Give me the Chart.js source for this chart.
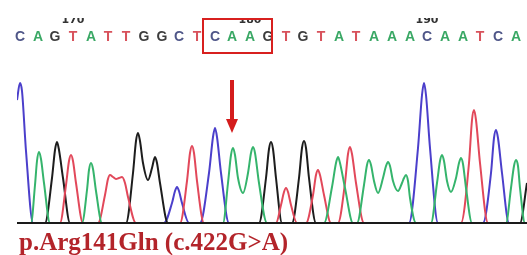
<!DOCTYPE html>
<html>
<head>
<meta charset="utf-8">
<script src="https://cdn.jsdelivr.net/npm/chart.js@4"></script>
<style>
  html, body { margin: 0; padding: 0; background: #fff; }
  #wrap { width: 527px; height: 255px; }
</style>
</head>
<body>
<div id="wrap"><canvas id="canvas" width="527" height="255"></canvas></div>
<script>
// base calls and where they sit (scan numbers)
const bases = ['C','A','G','T','A','T','T','G','G','C','T','C','A','A','G','T','G','T','A','T','A','A','A','C','A','A','T','C','A'];
const baseScans = [3,21,38,56,74,91,109,127,145,162,180,198,215,233,251,269,286,304,322,339,357,375,393,410,428,446,463,481,499];
const tickLabels = ['170','180','190'];
const tickBases = [3,13,23];
const mutationBase = 12;
const boxScans = [186, 255];
const caption = 'p.Arg141Gln (c.422G>A)';

// trace points per channel: [scan, signal]
const traceA = [[0,0],[14,0],[18,38],[20,62],[22,71],[24,64],[27,40],[33,0],
  [65,0],[70,33],[72,53],[74,60],[76,54],[79,32],[85,0],
  [206,0],[211,40],[214,68],[216,75],[218,68],[221,45],[226,30],[231,50],[234,70],[236,76],[238,70],[242,40],[250,0],
  [307,0],[315,36],[319,60],[321,66],[323,60],[328,35],[336,0],
  [340,0],[347,38],[350,58],[352,63],[354,58],[357,42],[361,30],[366,45],[369,57],[371,61],[373,57],[376,42],[381,32],[385,40],[387,45],[389,48],[391,42],[393,25],[399,0],
  [414,0],[420,40],[423,62],[425,68],[427,62],[430,42],[434,31],[439,45],[442,60],[444,65],[446,59],[449,35],[455,0],
  [489,0],[494,35],[497,57],[499,63],[501,57],[503,35],[508,0],[510,0]];
const traceC = [[0,123],[3,140],[5,132],[9,72],[16,0],
  [147,0],[155,20],[158,32],[160,36],[162,32],[165,20],[172,0],
  [183,0],[192,50],[196,86],[198,95],[200,86],[204,50],[212,0],
  [392,0],[401,75],[405,128],[407,140],[409,128],[413,75],[421,0],
  [466,0],[474,50],[477,85],[479,93],[481,85],[485,50],[492,0],[510,0]];
const traceG = [[0,0],[28,0],[35,45],[38,73],[40,81],[42,73],[46,45],[53,0],
  [109,0],[116,50],[119,82],[121,90],[123,82],[126,60],[131,43],[135,55],[138,66],[140,60],[143,40],[151,0],
  [242,0],[249,45],[252,74],[254,81],[256,74],[259,45],[265,0],
  [275,0],[282,45],[285,75],[287,82],[289,75],[292,45],[299,0],
  [503,0],[510,40]];
const traceT = [[0,0],[43,0],[49,38],[52,62],[54,68],[56,62],[59,40],[66,0],
  [81,0],[88,28],[91,44],[93,48],[96,46],[99,44],[102,45],[105,46],[108,40],[111,26],[119,0],
  [163,0],[170,42],[173,70],[175,77],[177,70],[180,42],[187,0],
  [259,0],[264,18],[267,31],[269,35],[271,31],[274,18],[280,0],
  [289,0],[296,28],[299,48],[301,53],[303,48],[307,28],[314,0],
  [321,0],[328,40],[331,69],[333,76],[335,69],[339,40],[347,0],
  [444,0],[452,60],[455,103],[457,113],[459,103],[463,60],[471,0],[510,0]];

const traceColors = { A: '#35b46c', C: '#4b3fcb', G: '#1d1d1d', T: '#e2485a' };
const letterColors = { A: '#3aa865', C: '#4f5688', G: '#3c3c3c', T: '#d8525c' };

function toPts(arr){
  return arr.map(p => ({x: p[0], y: p[1]}));
}

const overlay = {
  id: 'overlay',
  afterDraw(chart){
    const ctx = chart.ctx;
    const xs = chart.scales.x, ys = chart.scales.y;
    const area = chart.chartArea;
    ctx.save();

    // baseline
    ctx.strokeStyle = '#1a1a1a';
    ctx.lineWidth = 2;
    ctx.beginPath();
    ctx.moveTo(area.left, ys.getPixelForValue(0));
    ctx.lineTo(area.right, ys.getPixelForValue(0));
    ctx.stroke();

    // base letters
    ctx.font = 'bold 14px "Liberation Sans", Arial, sans-serif';
    ctx.textAlign = 'center';
    ctx.textBaseline = 'middle';
    bases.forEach((b, i) => {
      ctx.fillStyle = letterColors[b];
      ctx.fillText(b, xs.getPixelForValue(baseScans[i]), 37);
    });

    // position numbers, top part cut off like the original
    ctx.save();
    ctx.beginPath();
    ctx.rect(0, 18, chart.width, 12);
    ctx.clip();
    ctx.font = 'bold 11px "DejaVu Sans", sans-serif';
    ctx.fillStyle = '#333';
    ctx.textBaseline = 'bottom';
    tickLabels.forEach((t, i) => {
      ctx.fillText(t, xs.getPixelForValue(baseScans[tickBases[i]]), 26);
    });
    ctx.restore();

    // box around the codon
    ctx.strokeStyle = '#d8201f';
    ctx.lineWidth = 2;
    const bx0 = xs.getPixelForValue(boxScans[0]), bx1 = xs.getPixelForValue(boxScans[1]);
    ctx.strokeRect(bx0, 19, bx1 - bx0, 34);

    // arrow on the mutated base
    const ax = xs.getPixelForValue(baseScans[mutationBase]);
    const ay0 = ys.getPixelForValue(143), ay1 = ys.getPixelForValue(90);
    ctx.fillStyle = '#d41c1c';
    ctx.fillRect(ax - 2, ay0, 4, (ay1 - ay0) - 12);
    ctx.beginPath();
    ctx.moveTo(ax - 6, ay1 - 14);
    ctx.lineTo(ax + 6, ay1 - 14);
    ctx.lineTo(ax, ay1);
    ctx.closePath();
    ctx.fill();

    // caption
    ctx.font = 'bold 25px "Liberation Serif", "Times New Roman", serif';
    ctx.fillStyle = '#b3242a';
    ctx.textAlign = 'left';
    ctx.textBaseline = 'alphabetic';
    ctx.fillText(caption, 19, 250);

    ctx.restore();
  }
};

function makeSet(name, arr){
  return {
    label: name,
    data: toPts(arr),
    borderColor: traceColors[name],
    borderWidth: 2,
    pointRadius: 0,
    fill: false,
    cubicInterpolationMode: 'monotone'
  };
}

new Chart(document.getElementById('canvas'), {
  type: 'line',
  plugins: [overlay],
  data: {
    datasets: [makeSet('A', traceA), makeSet('T', traceT), makeSet('G', traceG), makeSet('C', traceC)]
  },
  options: {
    responsive: false,
    animation: false,
    layout: { padding: { left: 17, right: 0, top: 60, bottom: 32 } },
    plugins: { legend: { display: false }, tooltip: { enabled: false } },
    scales: {
      x: { type: 'linear', min: 0, max: 510, display: false },
      y: { min: 0, max: 163, display: false }
    }
  }
});
</script>
</body>
</html>
